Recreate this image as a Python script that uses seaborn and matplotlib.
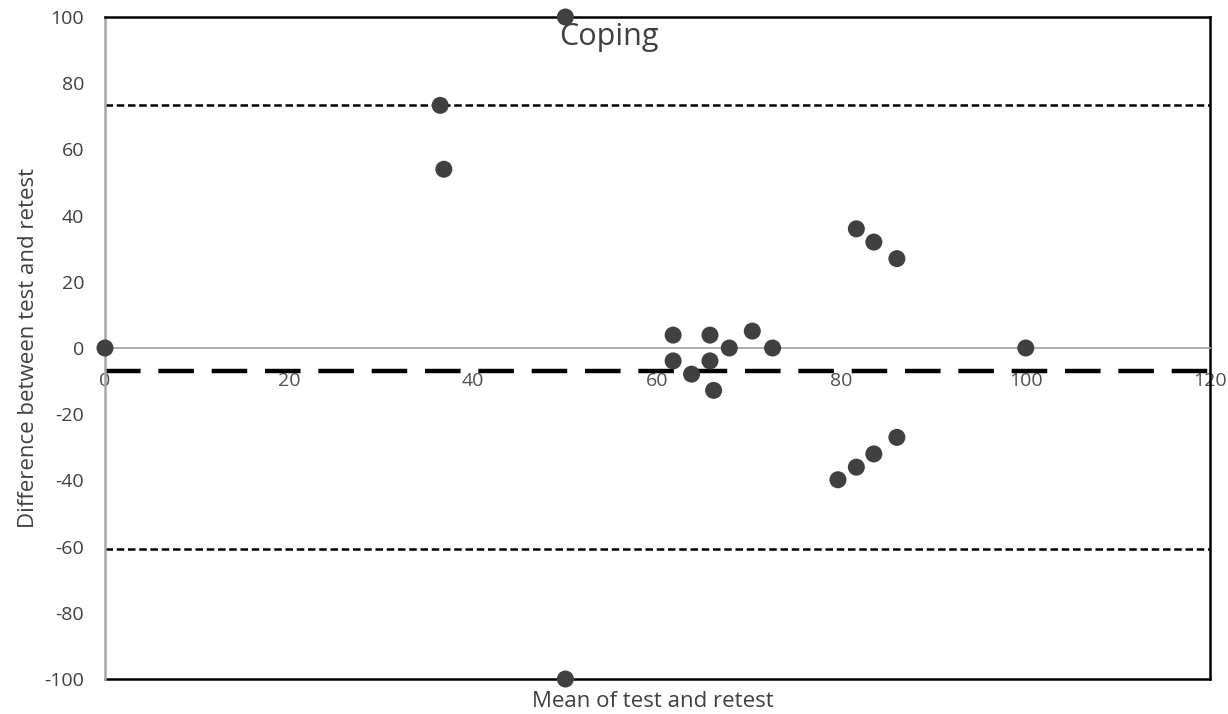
import matplotlib
matplotlib.use("Agg")
from matplotlib import pyplot as plt
import seaborn as sns
import pandas as pd

# Bland-Altman data
mean_vals = [0, 50, 50, 36.4, 36.8, 61.7, 61.7, 63.7, 65.7, 65.7, 66.1, 67.8, 70.3, 72.5,
             81.6, 83.5, 86.0, 100, 79.6, 81.6, 83.5, 86.0]
diff_vals = [0, 100, -100, 73.3, 54.0, 3.9, -3.9, -7.9, 3.9, -3.9, -12.8, 0, 5.1, 0,
             36.0, 32.0, 27.0, 0, -39.8, -36.0, -32.0, -27.0]
mean_diff = -6.9
upper_loa = 73.3
lower_loa = -60.7
x_ticks = [0, 20, 40, 60, 80, 100, 120]
y_ticks = [-100, -80, -60, -40, -20, 0, 20, 40, 60, 80, 100]

df = pd.DataFrame({'mean': mean_vals, 'diff': diff_vals})

sns.set_style('white')
plt.rcParams['font.family'] = ['Open Sans', 'DejaVu Sans']
plt.rcParams['axes.unicode_minus'] = False
txt = '#404040'

fig = plt.figure(figsize=(12.28, 7.14), dpi=100)
ax = fig.add_axes([0.0855, 0.049, 0.8998, 0.9272])

ax.axhline(upper_loa, color='black', lw=1.8, ls=(0, (3, 1.5)), zorder=2)
ax.axhline(lower_loa, color='black', lw=1.8, ls=(0, (3, 1.5)), zorder=2)
ax.axhline(mean_diff, color='black', lw=3.2, ls=(0, (8, 4)), zorder=2)

sns.scatterplot(data=df, x='mean', y='diff', ax=ax, color='#404040', s=150,
                edgecolor='none', zorder=3, clip_on=False)

ax.set_xlim(0, 120)
ax.set_ylim(-100, 100)
ax.set_xticks(x_ticks)
ax.set_yticks(y_ticks)

# axes cross at zero, frame around plot area
ax.spines['bottom'].set_position(('data', 0))
ax.spines['bottom'].set_color('#a6a6a6')
ax.spines['bottom'].set_linewidth(1.3)
ax.spines['left'].set_color('#a6a6a6')
ax.spines['left'].set_linewidth(1.8)
for s in ['top', 'right']:
    ax.spines[s].set_color('black')
    ax.spines[s].set_linewidth(1.8)
    ax.spines[s].set_visible(True)
ax.plot([0, 1], [0, 0], transform=ax.transAxes, color='black', lw=1.8, clip_on=False, zorder=1)

ax.tick_params(axis='x', length=0, pad=17, labelsize=14, labelcolor='#505050')
ax.tick_params(axis='y', length=0, pad=15, labelsize=14, labelcolor=txt)

ax.set_xlabel('')
ax.set_ylabel('Difference between test and retest', fontsize=16, color=txt, labelpad=4)
fig.text(0.532, 0.018, 'Mean of test and retest', ha='center', va='center',
         fontsize=16, color=txt)
ax.text(0.456, 0.992, 'Coping', transform=ax.transAxes, ha='center', va='top',
        fontsize=22, color=txt)

fig.savefig('out.png', dpi=100)
